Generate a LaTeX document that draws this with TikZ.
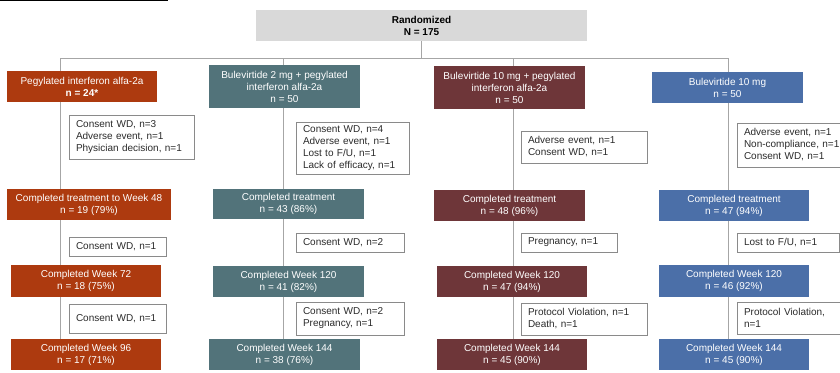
\documentclass[tikz,border=0pt]{standalone}
\usepackage{fontspec}
\setmainfont{Liberation Sans}
\definecolor{armA}{HTML}{AD3A0F}
\definecolor{armB}{HTML}{52737A}
\definecolor{armC}{HTML}{6E3639}
\definecolor{armD}{HTML}{4B6FA8}
\definecolor{randgray}{HTML}{D9D9D9}
\definecolor{linegray}{HTML}{A6A6A6}
\definecolor{boxgray}{HTML}{8A8A8A}
\definecolor{txt}{HTML}{2B2B2B}
\pgfdeclarelayer{bg}
\pgfsetlayers{bg,main}
\tikzset{
  base/.style={font=\fontsize{10}{12}\selectfont, anchor=north west, inner sep=0pt, outer sep=0pt},
  arm/.style={base, text=white, align=center},
  excl/.style={base, draw=boxgray, line width=0.8pt, fill=white, align=left, inner xsep=7pt, text=txt},
  conn/.style={draw=linegray, line width=0.8pt},
}
\begin{document}
\begin{tikzpicture}[x=1pt,y=-1pt]
\path[use as bounding box] (0,0) rectangle (840,372);
\begin{scope}
\clip (0,0) rectangle (840,372);
% top-left rule
\draw[black, line width=1.2pt] (0,0.6) -- (168,0.6);
% randomized
\node[base, fill=randgray, minimum width=331, minimum height=31, align=center, font=\fontsize{10}{12}\selectfont\bfseries] (rand) at (256,10) {Randomized\\N = 175};
% arms
\node[arm, fill=armA, minimum width=150, minimum height=31] (a1) at (7,71) {Pegylated interferon alfa-2a\\\textbf{n = 24*}};
\node[arm, fill=armB, minimum width=151, minimum height=43] (a2) at (209,65) {Bulevirtide 2 mg + pegylated\\interferon alfa-2a\\n = 50};
\node[arm, fill=armC, minimum width=151, minimum height=43] (a3) at (434,66) {Bulevirtide 10 mg + pegylated\\interferon alfa-2a\\n = 50};
\node[arm, fill=armD, minimum width=151, minimum height=31] (a4) at (652,72) {Bulevirtide 10 mg\\n = 50};
% completed treatment
\node[arm, fill=armA, minimum width=164, minimum height=31] (c1) at (7,189) {Completed treatment to Week 48\\n = 19 (79\%)};
\node[arm, fill=armB, minimum width=151, minimum height=30] (c2) at (213,189) {Completed treatment\\n = 43 (86\%)};
\node[arm, fill=armC, minimum width=151, minimum height=31] (c3) at (434,190) {Completed treatment\\n = 48 (96\%)};
\node[arm, fill=armD, minimum width=150, minimum height=31] (c4) at (659,190) {Completed treatment\\n = 47 (94\%)};
% week 72/120
\node[arm, fill=armA, minimum width=150, minimum height=32] (d1) at (11,265) {Completed Week 72\\n = 18 (75\%)};
\node[arm, fill=armB, minimum width=151, minimum height=31] (d2) at (213,266) {Completed Week 120\\n = 41 (82\%)};
\node[arm, fill=armC, minimum width=150, minimum height=31] (d3) at (437,266) {Completed Week 120\\n = 47 (94\%)};
\node[arm, fill=armD, minimum width=150, minimum height=32] (d4) at (659,265) {Completed Week 120\\n = 46 (92\%)};
% week 96/144
\node[arm, fill=armA, minimum width=150, minimum height=31] (e1) at (11,339) {Completed Week 96\\n = 17 (71\%)};
\node[arm, fill=armB, minimum width=151, minimum height=31] (e2) at (209,339) {Completed Week 144\\n = 38 (76\%)};
\node[arm, fill=armC, minimum width=150, minimum height=31] (e3) at (437,339) {Completed Week 144\\n = 45 (90\%)};
\node[arm, fill=armD, minimum width=150, minimum height=31] (e4) at (659,339) {Completed Week 144\\n = 45 (90\%)};
% exclusions row A
\node[excl, minimum width=125, minimum height=44, text width=111] (x1) at (69,115) {Consent WD, n=3\\Adverse event, n=1\\Physician decision, n=1};
\node[excl, minimum width=113, minimum height=52, text width=99] (x2) at (296,122) {Consent WD, n=4\\Adverse event, n=1\\Lost to F/U, n=1\\Lack of efficacy, n=1};
\node[excl, minimum width=126, minimum height=32, text width=112] (x3) at (521,131) {Adverse event, n=1\\Consent WD, n=1};
\node[excl, minimum width=130, minimum height=44, text width=116] (x4) at (737,123) {Adverse event, n=1\\Non-compliance, n=1\\Consent WD, n=1};
% exclusions row B
\node[excl, minimum width=97, minimum height=19, text width=83] (y1) at (69,237) {Consent WD, n=1};
\node[excl, minimum width=108, minimum height=19, text width=94] (y2) at (296,233) {Consent WD, n=2};
\node[excl, minimum width=96, minimum height=19, text width=82] (y3) at (521,233) {Pregnancy, n=1};
\node[excl, minimum width=102, minimum height=19, text width=88] (y4) at (737,233) {Lost to F/U, n=1};
% exclusions row C
\node[excl, minimum width=97, minimum height=29, text width=83] (z1) at (69,304) {Consent WD, n=1};
\node[excl, minimum width=108, minimum height=33, text width=94] (z2) at (296,302) {Consent WD, n=2\\Pregnancy, n=1};
\node[excl, minimum width=126, minimum height=32, text width=112] (z3) at (521,303) {Protocol Violation, n=1\\Death, n=1};
\node[excl, minimum width=130, minimum height=32, text width=116] (z4) at (737,302) {Protocol Violation,\\n=1};
% connectors
\coordinate (h1) at (60,58);
\coordinate (h2) at (283,58);
\coordinate (h3) at (513,58);
\coordinate (h4) at (728,58);
\begin{pgfonlayer}{bg}
\draw[conn] (rand.south) -- (rand.south |- h1);
\draw[conn] (h1) -- (h4);
\draw[conn] (h1) -- (h1 |- e1.north);
\draw[conn] (h2) -- (h2 |- e2.north);
\draw[conn] (h3) -- (h3 |- e3.north);
\draw[conn] (h4) -- (h4 |- e4.north);
\end{pgfonlayer}
\end{scope}
\end{tikzpicture}
\end{document}
